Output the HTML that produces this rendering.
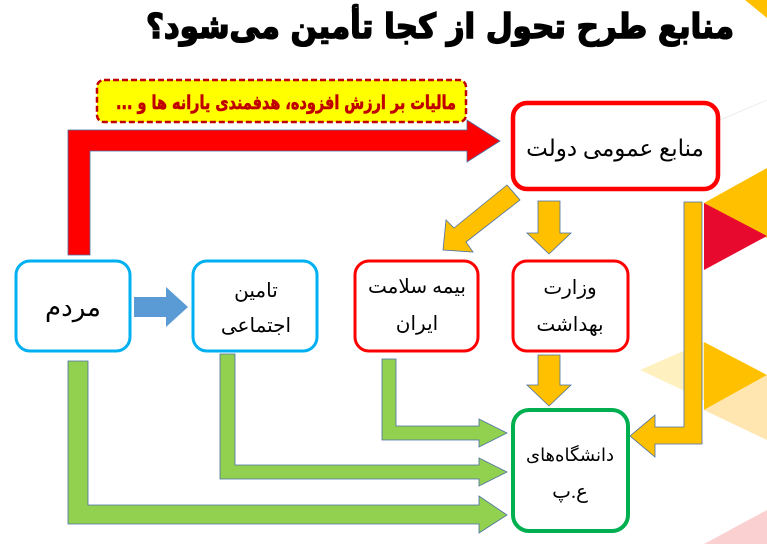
<!DOCTYPE html>
<html><head><meta charset="utf-8"><style>
html,body{margin:0;padding:0;background:#fff;width:767px;height:544px;overflow:hidden}
svg{display:block}
text{font-family:"Liberation Serif","DejaVu Sans",serif}
</style></head><body>
<svg width="767" height="544" viewBox="0 0 767 544" xmlns="http://www.w3.org/2000/svg">
<polygon points="745,0 767,0 767,18" fill="#ffc000"/>
<polygon points="704,203 767,168 767,238" fill="#ffc000"/>
<polygon points="704,203 767,236 704,270" fill="#e8092e"/>
<polygon points="640,370 704,342 704,400" fill="#fff0c0"/>
<polygon points="704,342 767,375 704,410" fill="#ffc000"/>
<polygon points="704,410 767,375 767,440" fill="#ffe5b0"/>
<polygon points="704,544 767,510 767,544" fill="#fbd0d0"/>
<line x1="720" y1="120" x2="767" y2="100" stroke="#eee" stroke-width="1"/>

<text x="440" y="38" text-anchor="middle" direction="rtl" font-size="34" font-weight="bold" fill="#000" stroke="#000" stroke-width="1.6" textLength="588" lengthAdjust="spacingAndGlyphs" style="font-family:'DejaVu Sans',sans-serif">منابع طرح تحول از کجا تأمین می‌شود؟</text>

<polygon points="68,255 68,130 467,130 467,120 500,141 467,162 467,151 90,151 90,255" fill="#ff0000" stroke="#4a6fa5" stroke-width="0.8"/>
<rect x="97" y="80" width="369" height="42" rx="7" fill="#ffff00" stroke="#c00000" stroke-width="2.5" stroke-dasharray="6,3"/>
<text x="286" y="109" text-anchor="middle" direction="rtl" font-size="19" font-weight="bold" fill="#c00000" stroke="#c00000" stroke-width="0.6" textLength="340" lengthAdjust="spacingAndGlyphs" style="font-family:'DejaVu Sans',sans-serif">مالیات بر ارزش افزوده، هدفمندی یارانه ها و ...</text>

<rect x="513" y="103" width="205" height="86" rx="14" fill="#fff" stroke="#ff0000" stroke-width="4.5"/>
<text x="615" y="156" text-anchor="middle" font-size="23">منابع عمومی دولت</text>

<polygon points="507,185 520,200 466,242 473,252 443,250 446,220 454,228" fill="#ffc000" stroke="#4a6fa5" stroke-width="0.8"/>
<polygon points="538,201 560,201 560,233 571,233 549,254 527,233 538,233" fill="#ffc000" stroke="#4a6fa5" stroke-width="0.8"/>
<polygon points="538,355 560,355 560,385 571,385 549,406 527,385 538,385" fill="#ffc000" stroke="#4a6fa5" stroke-width="0.8"/>
<polygon points="684,202 702,202 702,444 655,444 655,457 630,436 655,415 655,427 684,427" fill="#ffc000" stroke="#4a6fa5" stroke-width="0.8"/>

<polygon points="134,297 166,297 166,287 188,307 166,327 166,317 134,317" fill="#5b9bd5"/>

<polygon points="68,361 88,361 88,505 479,505 479,496 507,515 479,533 479,524 68,524" fill="#92d050" stroke="#4a6fa5" stroke-width="0.8"/>
<polygon points="220,354 235,354 235,465 479,465 479,458 507,472 479,486 479,479 220,479" fill="#92d050" stroke="#4a6fa5" stroke-width="0.8"/>
<polygon points="382,359 396,359 396,426 479,426 479,419 507,433 479,447 479,440 382,440" fill="#92d050" stroke="#4a6fa5" stroke-width="0.8"/>

<rect x="16" y="261" width="114" height="90" rx="14" fill="#fff" stroke="#00b0f0" stroke-width="3"/>
<text x="73" y="316" text-anchor="middle" font-size="26">مردم</text>

<rect x="193" y="261" width="124" height="90" rx="14" fill="#fff" stroke="#00b0f0" stroke-width="3"/>
<text x="256" y="297" text-anchor="middle" font-size="20">تامین</text>
<text x="256" y="332" text-anchor="middle" font-size="20">اجتماعی</text>

<rect x="355" y="261" width="123" height="90" rx="14" fill="#fff" stroke="#ff0000" stroke-width="3"/>
<text x="417" y="293" text-anchor="middle" font-size="20">بیمه سلامت</text>
<text x="417" y="330" text-anchor="middle" font-size="20">ایران</text>

<rect x="513" y="261" width="115" height="90" rx="14" fill="#fff" stroke="#ff0000" stroke-width="3"/>
<text x="570" y="294" text-anchor="middle" font-size="20">وزارت</text>
<text x="570" y="331" text-anchor="middle" font-size="20">بهداشت</text>

<rect x="513" y="410" width="115" height="121" rx="16" fill="#fff" stroke="#00b050" stroke-width="4"/>
<text x="570" y="461" text-anchor="middle" font-size="18">دانشگاه‌های</text>
<text x="570" y="498" text-anchor="middle" font-size="20">ع.پ</text>
</svg>
</body></html>
